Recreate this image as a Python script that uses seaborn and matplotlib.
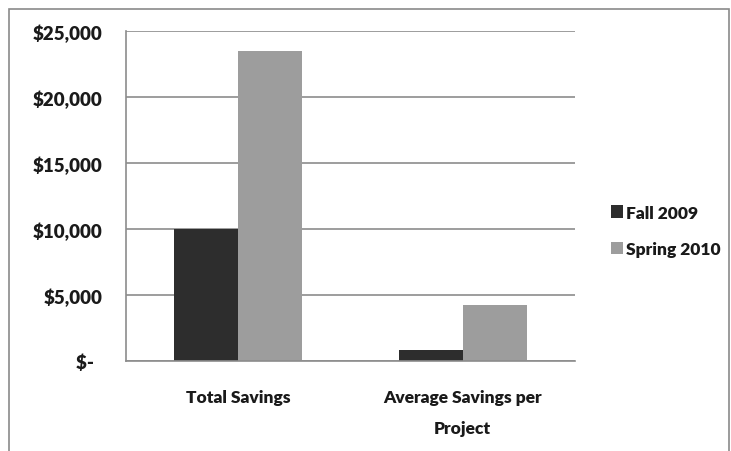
import matplotlib
matplotlib.use("Agg")
import matplotlib.pyplot as plt
from matplotlib.patches import Rectangle, Patch
import seaborn as sns
import pandas as pd

# Savings data by semester
categories = ["Total Savings", "Average Savings per\nProject"]
semesters = ["Fall 2009", "Spring 2010"]
fall_2009 = [10000, 850]
spring_2010 = [23500, 4250]
y_ticks = [0, 5000, 10000, 15000, 20000, 25000]
y_tick_labels = ["$-  ", "$5,000", "$10,000", "$15,000", "$20,000", "$25,000"]

df = pd.DataFrame({
    "category": categories * 2,
    "semester": [semesters[0]] * 2 + [semesters[1]] * 2,
    "savings": fall_2009 + spring_2010,
})

sns.set_theme(style="white")
plt.rcParams["font.family"] = ["Lato", "DejaVu Sans"]
plt.rcParams["font.weight"] = "heavy"

text_color = "#1a1a1a"
grid_color = "#8c8c8c"
palette = {"Fall 2009": "#2d2d2d", "Spring 2010": "#9d9d9d"}

W, H = 731, 452
fig = plt.figure(figsize=(W / 100, H / 100), dpi=100)
fig.patch.set_facecolor("white")
ax = fig.add_axes([126 / W, 1 - 362 / H, (575 - 126) / W, (362 - 32) / H])

sns.barplot(data=df, x="category", y="savings", hue="semester", order=categories,
            hue_order=semesters, palette=palette, width=0.569, saturation=1,
            linewidth=0, ax=ax, legend=False)

ax.set_xlim(-0.5, 1.5)
ax.set_ylim(0, 25000)
ax.set_yticks(y_ticks)
ax.set_yticklabels(y_tick_labels)
ax.set_xlabel("")
ax.set_ylabel("")
ax.yaxis.grid(True, color=grid_color, linewidth=1.2)
ax.set_axisbelow(True)
for side in ["top", "right"]:
    ax.spines[side].set_visible(False)
for side in ["left", "bottom"]:
    ax.spines[side].set_color(grid_color)
    ax.spines[side].set_linewidth(1.2)
ax.tick_params(axis="both", length=0, colors=text_color)
ax.tick_params(axis="y", pad=17, labelsize=13.5)
ax.tick_params(axis="x", pad=20, labelsize=12.5)
for lbl in ax.get_xticklabels():
    lbl.set_linespacing(2.15)
    lbl.set_verticalalignment("top")

handles = [Patch(facecolor=palette[s], edgecolor="none", label=s) for s in semesters]
fig.legend(handles=handles, loc="center left", bbox_to_anchor=(595 / W, 1 - 232 / H),
           frameon=False, fontsize=12.5, handlelength=0.7, handleheight=0.7,
           handletextpad=0.2, labelspacing=1.2, labelcolor=text_color)

# Chart frame
fig.patches.append(Rectangle((9 / W, -0.05), (729 - 9) / W, 1.05 - 10 / H,
                             transform=fig.transFigure, fill=False,
                             edgecolor="#8a8a8a", linewidth=1.2))

fig.savefig("out.png", dpi=100, facecolor="white")
